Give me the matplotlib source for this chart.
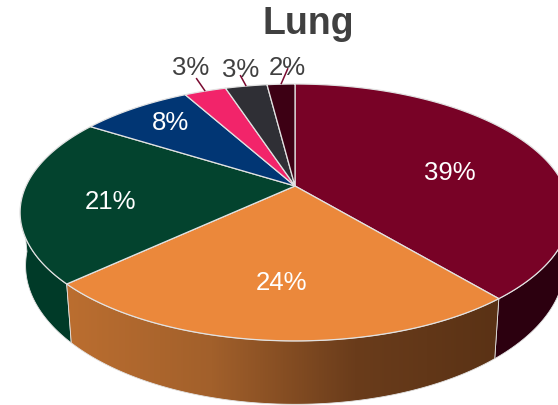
import numpy as np
import matplotlib
matplotlib.use('Agg')
from matplotlib import pyplot as plt
from matplotlib.patches import Polygon
from matplotlib.colors import LinearSegmentedColormap

# slices, clockwise from the top
values = [39, 24, 21, 8, 3, 3, 2]
labels = ['39%', '24%', '21%', '8%', '3%', '3%', '2%']
colors = ['#780226', '#EB883B', '#03432E', '#013674', '#F2246A', '#2F2F35', '#3D0014']

plt.rcParams['font.family'] = ['Liberation Sans', 'DejaVu Sans']

# fake 3d pie: a circle seen in perspective, pixel units
cx, cy = 295, 187
R, Ry, k = 269, 123, 0.206
sx, sy, depth = 0.98, 1.08, 51
edge = '#e2e2e2'


def top(a, f=1.0):
    u, v = f * np.sin(a), -f * np.cos(a)
    w = 1 - k * v
    return cx + R * u / w, cy + Ry * v / w


def bottom(a):
    x, y = top(a)
    return cx + (x - cx) * sx, cy + depth + (y - cy) * sy


def side(a0, a1):
    a = np.linspace(a0, a1, 100)
    up = np.column_stack(top(a))
    lo = np.column_stack(bottom(a))
    return np.vstack([up, lo[::-1]])


fig = plt.figure(figsize=(5.58, 4.06), dpi=100)
ax = fig.add_axes([0, 0, 1, 1])

cum = np.cumsum([0] + values) / sum(values) * 2 * np.pi
mid = (cum[:-1] + cum[1:]) / 2
left_sil = 2 * np.pi - np.arccos(-k) + 0.1
right_sil = 2 * np.pi - left_sil

# side walls
ax.add_patch(Polygon(side(right_sil, cum[1]), fc='#2C000F', ec=edge, lw=0.6))
ax.add_patch(Polygon(side(cum[2], left_sil), fc='#003A28', ec=edge, lw=0.6))
wall = Polygon(side(cum[1], cum[2]), fc='none', ec=edge, lw=0.6, zorder=3)
ax.add_patch(wall)
cmap = LinearSegmentedColormap.from_list('wall', ['#BB6E30', '#A2602B', '#6A3C1B', '#5A3215'])
x0, x1 = top(cum[2])[0], top(cum[1])[0]
im = ax.imshow(np.linspace(0, 1, 256).reshape(1, -1), cmap=cmap, aspect='auto',
               extent=[x0, x1, 406, 200], zorder=2)
im.set_clip_path(wall)

# top face
for i, c in enumerate(colors):
    a = np.linspace(cum[i], cum[i + 1], 120)
    xs, ys = top(a)
    pts = np.vstack([[cx, cy], np.column_stack([xs, ys])])
    ax.add_patch(Polygon(pts, fc=c, ec=edge, lw=0.9, zorder=4))

# labels inside the slices
inner_f = [0.64, 0.68, 0.68, 0.75]
inner_dy = [12, -1, 7, -4]
for i in range(4):
    x, y = top(mid[i], inner_f[i])
    ax.text(x, y + inner_dy[i], labels[i], color='white', fontsize=18.5,
            ha='center', va='center', zorder=6)

# small slices get a leader line
lead_dx = [-9, -6, 7]
lead_dy = [-13, -11, -16]
text_dx = [-6, 0, -1]
text_dy = [-11, -6, -1]
for i, j in enumerate(range(4, 7)):
    x, y = top(mid[j])
    ex, ey = x + lead_dx[i], y + lead_dy[i]
    ax.plot([x, ex], [y, ey], color='#7A0A30', lw=1.1, zorder=7, solid_capstyle='butt')
    ax.text(ex + text_dx[i], ey + text_dy[i], labels[j], color='#404040', fontsize=18.5,
            ha='center', va='center', zorder=6)

ax.text(308, 24, 'Lung', color='#404040', fontsize=27, fontweight='bold',
        ha='center', va='center')

ax.set_xlim(0, 558)
ax.set_ylim(406, 0)
ax.axis('off')

plt.savefig('out.png', dpi=100)
